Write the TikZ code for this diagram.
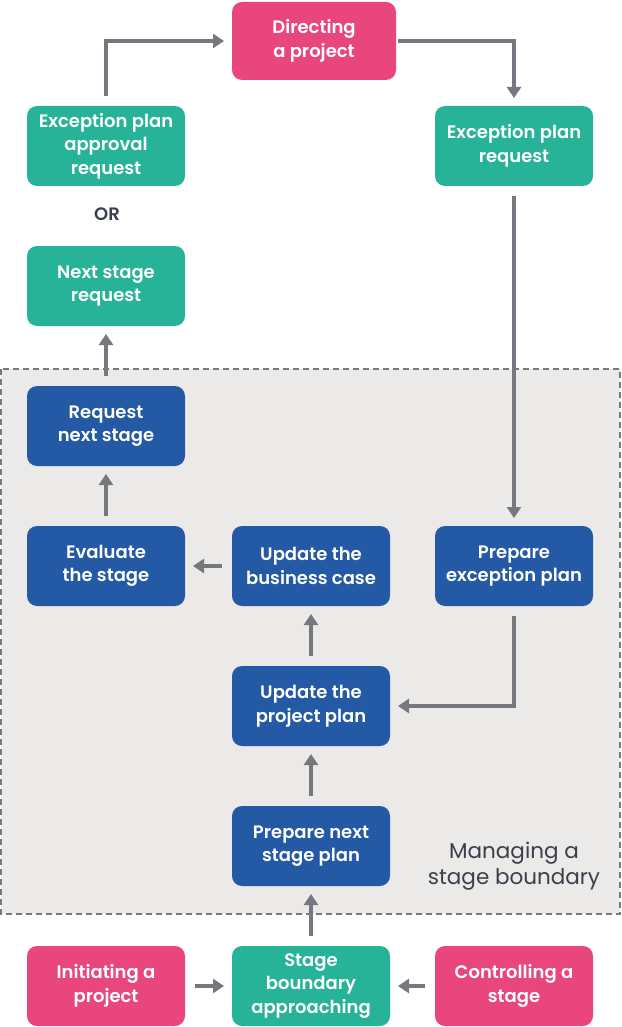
\documentclass[tikz,border=0pt]{standalone}
\usepackage{fontspec}
\setmainfont{Poppins}[BoldFont={Poppins SemiBold}]
\usepackage{tikz}
\usetikzlibrary{positioning}
\usetikzlibrary{arrows.meta}

\definecolor{stagepink}{HTML}{E9467E}
\definecolor{stageteal}{HTML}{27B397}
\definecolor{stageblue}{HTML}{2459A6}
\definecolor{flowgray}{HTML}{77777F}
\definecolor{areagray}{HTML}{ECEAE8}
\definecolor{labelgray}{HTML}{3A3F4C}

\begin{document}
\begin{tikzpicture}[
        x = 1pt, y = -1pt,
        box/.style = {
            fill = #1,
            rounded corners = 10pt,
            minimum width = 158pt,
            minimum height = 80pt,
            inner sep = 0pt,
            outer sep = 0pt,
            align = center,
            text = white,
            font = \fontsize{18}{23.5}\selectfont\bfseries
        },
        box/.default = stageblue,
        flow/.style = {
            draw = flowgray,
            line width = 3.5pt,
            shorten < = 10pt,
            shorten > = 8pt,
            -{Triangle[length=11pt, width=14pt]}
        },
        node distance = {60pt and 46pt}
    ]
    \useasboundingbox (0,0) rectangle (621,1027);

    % managing a stage boundary
    \draw[draw = flowgray, fill = areagray, line width = 2pt,
          dash pattern = on 6pt off 4pt] (1,369) rectangle (620,914);

    \node[box=stageteal] (approach) at (311,986) {Stage\\boundary\\approaching};
    \node[box=stagepink, left=47pt of approach] (initiate) {Initiating a\\project};
    \node[box=stagepink, right=45pt of approach] (control) {Controlling a\\stage};
    \node[box, above=of approach] (prepnext) {Prepare next\\stage plan};
    \node[box, above=of prepnext] (projplan) {Update the\\project plan};
    \node[box, above=of projplan] (bizcase) {Update the\\business case};
    \node[box, left=47pt of bizcase] (evaluate) {Evaluate\\the stage};
    \node[box, right=45pt of bizcase] (prepexc) {Prepare\\exception plan};
    \node[box, above=of evaluate] (reqnext) {Request\\next stage};
    \node[box=stageteal, above=of reqnext] (nextreq) {Next stage\\request};
    \node[box=stageteal, above=of nextreq] (approval) {Exception plan\\approval\\request};
    \node[box=stageteal] (excreq) at (prepexc |- approval) {Exception plan\\request};
    \node[box=stagepink, minimum width = 164pt, minimum height = 78pt] (direct) at (314,41) {Directing\\a project};
    \node[font = \fontsize{18}{23.5}\selectfont\bfseries, text = labelgray] (or) at (107,214) {OR};
    \node[font = \fontsize{21.5}{26}\selectfont, text = labelgray, align = center] (area) at (514,866) {Managing a\\stage boundary};

    \draw[flow] (approval) |- (direct);
    \draw[flow, shorten < = 2pt] (direct) -| (excreq);
    \draw[flow] (excreq) -- (prepexc);
    \draw[flow] (prepexc) |- (projplan);
    \draw[flow] (bizcase) -- (evaluate);
    \draw[flow] (evaluate) -- (reqnext);
    \draw[flow] (reqnext) -- (nextreq);
    \draw[flow] (projplan) -- (bizcase);
    \draw[flow] (prepnext) -- (projplan);
    \draw[flow] (approach) -- (prepnext);
    \draw[flow] (initiate) -- (approach);
    \draw[flow] (control) -- (approach);

\end{tikzpicture}
\end{document}
